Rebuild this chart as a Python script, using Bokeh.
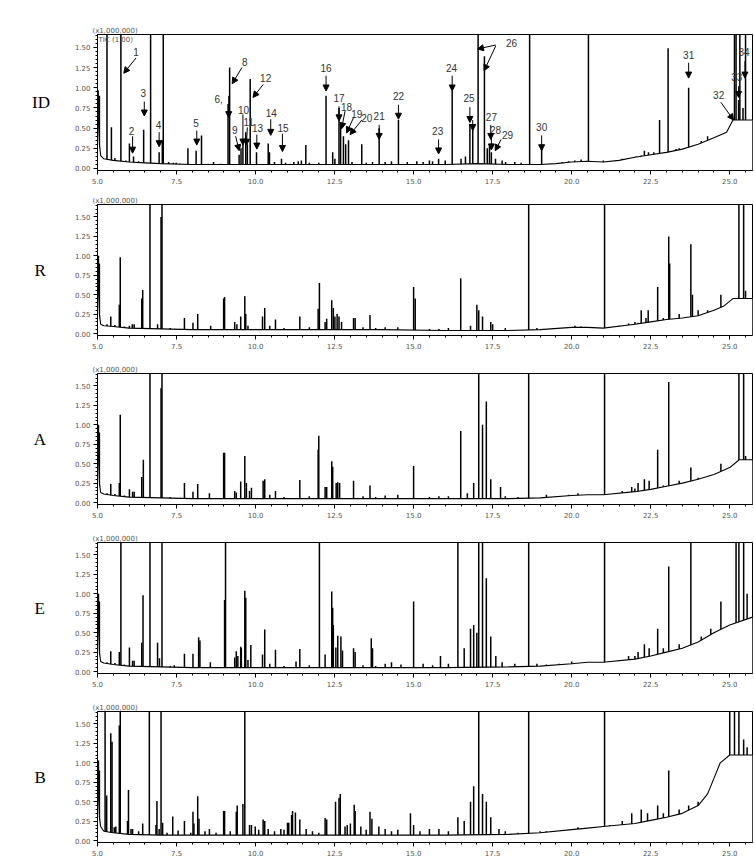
import numpy as np
from bokeh.plotting import figure
from bokeh.layouts import column
from bokeh.models import (Range1d, FixedTicker, NumeralTickFormatter, Arrow,
                          NormalHead, Label, ColumnDataSource)
from bokeh.embed import file_html
from bokeh.resources import INLINE
from bokeh.core.properties import value

# ---------------- axes ----------------
X_RANGE = (5.0, 25.72)
Y_RANGE = (-0.025, 1.66)
X_TICKS = [5.0, 7.5, 10.0, 12.5, 15.0, 17.5, 20.0, 22.5, 25.0]
X_MINOR = [5.5, 6.0, 6.5, 7.0, 8.0, 8.5, 9.0, 9.5, 10.5, 11.0, 11.5, 12.0, 13.0, 13.5,
           14.0, 14.5, 15.5, 16.0, 16.5, 17.0, 18.0, 18.5, 19.0, 19.5, 20.5, 21.0,
           21.5, 22.0, 23.0, 23.5, 24.0, 24.5, 25.5]
Y_TICKS = [0.0, 0.25, 0.5, 0.75, 1.0, 1.25, 1.5]
Y_MINOR = [0.05, 0.1, 0.15, 0.2, 0.3, 0.35, 0.4, 0.45, 0.55, 0.6, 0.65, 0.7, 0.8, 0.85,
           0.9, 0.95, 1.05, 1.1, 1.15, 1.2, 1.3, 1.35, 1.4, 1.45, 1.55, 1.6, 1.65]

# ---------------- ID ----------------
ID_T = [5.02, 5.06, 5.30, 5.44, 5.74, 6.01, 6.14, 6.46, 6.68, 6.95, 7.05, 7.08, 7.49,
        7.86, 8.12, 8.29, 8.67, 9.13, 9.18, 9.48, 9.54, 9.60, 9.69, 9.74, 9.83, 10.03,
        10.40, 10.44, 10.82, 11.21, 11.45, 11.59, 12.23, 12.44, 12.51, 12.64, 12.69,
        12.78, 12.85, 12.94, 13.36, 13.91, 14.52, 15.79, 16.22, 16.64, 16.78, 16.87,
        17.04, 17.24, 17.33, 17.40, 17.46, 17.59, 17.91, 18.67, 19.05, 20.53, 21.40,
        22.04, 22.30, 22.43, 22.78, 23.05, 23.52, 23.70, 23.85, 25.15, 25.20, 25.28,
        25.32, 25.42, 25.50, 25.60]
ID_H = [0.97, 0.90, 1.70, 0.51, 1.70, 0.31, 0.15, 0.48, 1.70, 0.20, 0.35, 1.70, 0.07,
        0.25, 0.22, 0.41, 0.08, 0.80, 1.25, 0.17, 0.25, 0.35, 0.45, 0.30, 1.11, 0.20,
        0.31, 0.20, 0.12, 0.08, 0.10, 0.29, 0.90, 0.20, 0.12, 0.75, 0.55, 0.40, 0.30,
        0.35, 0.30, 0.50, 0.60, 0.12, 0.96, 0.15, 0.55, 0.48, 1.70, 1.39, 0.25, 0.30,
        0.20, 0.12, 0.08, 1.70, 0.25, 1.70, 0.10, 0.15, 0.22, 0.20, 0.60, 1.49, 0.15,
        1.00, 0.25, 1.70, 1.70, 0.85, 1.70, 0.75, 1.70, 0.60]
# small background spikes of ID
ID_NT = [5.55, 5.9, 6.3, 7.25, 7.4, 7.6, 8.5, 8.9, 10.6, 10.95, 11.1, 11.35, 11.7, 12.0,
         13.05, 13.5, 13.7, 14.1, 14.3, 14.8, 15.1, 15.3, 15.5, 15.6, 16.0, 16.5, 17.8,
         18.2, 18.4, 19.7, 19.9, 20.1, 20.3, 21.0, 21.6, 21.8, 22.2, 22.6, 23.3, 23.4,
         24.1, 24.3]
ID_NH = [0.13, 0.10, 0.09, 0.08, 0.07, 0.06, 0.06, 0.06, 0.08, 0.07, 0.06, 0.09, 0.07,
         0.07, 0.08, 0.07, 0.08, 0.08, 0.09, 0.08, 0.09, 0.08, 0.10, 0.09, 0.10, 0.12,
         0.10, 0.08, 0.07, 0.08, 0.09, 0.10, 0.11, 0.10, 0.12, 0.13, 0.16, 0.20, 0.24,
         0.25, 0.34, 0.40]
ID_BX = [5.0, 5.03, 5.06, 5.1, 5.2, 5.5, 6.0, 6.5, 7.0, 8.0, 9.0, 10.0, 11.0, 12.0,
         13.0, 14.0, 15.0, 16.0, 17.0, 18.0, 19.0, 19.5, 20.0, 20.5, 21.0, 21.5, 22.0,
         22.5, 23.0, 23.5, 24.0, 24.5, 24.9, 25.1, 25.4, 25.72]
ID_BY = [0.95, 0.60, 0.30, 0.16, 0.12, 0.10, 0.08, 0.07, 0.06, 0.05, 0.05, 0.05, 0.05,
         0.05, 0.05, 0.05, 0.05, 0.05, 0.06, 0.05, 0.05, 0.06, 0.08, 0.09, 0.08, 0.10,
         0.14, 0.17, 0.20, 0.24, 0.30, 0.38, 0.45, 0.60, 0.60, 0.60]

# peak annotations of ID
LBL_TEXT = ["1", "2", "3", "4", "5", "6,", "8", "9", "10", "11", "12", "13", "14", "15",
            "16", "17", "18", "19", "20", "21", "22", "23", "24", "25", "26", "27", "28",
            "29", "30", "31", "32", "33", "34"]
LBL_X = [6.22, 6.08, 6.45, 6.93, 8.12, 8.83, 9.66, 9.34, 9.62, 9.78, 10.32, 10.06, 10.50,
         10.87, 12.23, 12.64, 12.88, 13.20, 13.52, 13.91, 14.52, 15.76, 16.20, 16.75,
         18.10, 17.46, 17.59, 17.97, 19.05, 23.70, 24.65, 25.22, 25.45]
LBL_Y = [1.44, 0.47, 0.93, 0.54, 0.56, 0.86, 1.32, 0.48, 0.73, 0.58, 1.12, 0.50, 0.69,
         0.50, 1.25, 0.87, 0.76, 0.67, 0.63, 0.65, 0.90, 0.47, 1.24, 0.87, 1.56, 0.64,
         0.48, 0.42, 0.51, 1.41, 0.91, 1.13, 1.44]
ARR_X0 = [6.22, 6.11, 6.48, 6.95, 8.14, 9.15, 9.57, 9.37, 9.60, 9.74, 10.24, 10.04,
          10.48, 10.85, 12.23, 12.64, 12.83, 13.10, 13.36, 13.91, 14.52, 15.79, 16.22,
          16.78, 16.87, 17.60, 17.60, 17.44, 17.46, 17.77, 19.05, 23.70, 24.72, 25.28, 25.48]
ARR_Y0 = [1.37, 0.40, 0.83, 0.45, 0.47, 0.90, 1.25, 0.40, 0.67, 0.51, 1.04, 0.42, 0.61,
          0.43, 1.15, 0.77, 0.71, 0.63, 0.60, 0.54, 0.79, 0.36, 1.15, 0.76, 0.60, 1.53,
          1.52, 0.54, 0.42, 0.36, 0.41, 1.31, 0.82, 1.02, 1.33]
ARR_X1 = [5.83, 6.11, 6.48, 6.95, 8.14, 9.15, 9.26, 9.48, 9.60, 9.71, 9.92, 10.04, 10.48,
          10.85, 12.23, 12.64, 12.72, 12.88, 12.99, 13.91, 14.52, 15.79, 16.22, 16.78,
          16.87, 17.02, 17.23, 17.44, 17.46, 17.58, 19.05, 23.70, 25.12, 25.28, 25.48]
ARR_Y1 = [1.18, 0.19, 0.65, 0.27, 0.29, 0.63, 1.05, 0.22, 0.29, 0.29, 0.88, 0.24, 0.41,
          0.21, 0.96, 0.59, 0.49, 0.44, 0.42, 0.36, 0.61, 0.18, 0.96, 0.57, 0.47, 1.48,
          1.21, 0.36, 0.23, 0.22, 0.22, 1.12, 0.60, 0.88, 1.12]

# ---------------- R ----------------
R_T = [5.03, 5.06, 5.42, 5.69, 5.72, 6.01, 6.10, 6.16, 6.40, 6.43, 6.66, 6.90, 7.01, 7.04,
       7.75, 8.02, 8.17, 8.58, 8.99, 9.02, 9.34, 9.41, 9.53, 9.66, 9.69, 9.76, 10.22,
       10.29, 10.63, 11.40, 11.98, 12.02, 12.20, 12.25, 12.41, 12.46, 12.51, 12.58,
       12.64, 12.72, 13.10, 13.15, 13.62, 15.00, 15.05, 16.49, 17.00, 17.06, 17.18,
       17.44, 17.50, 18.64, 18.90, 19.90, 20.10, 20.30, 21.04, 21.80, 22.10, 22.20,
       22.35, 22.42, 22.72, 23.07, 23.10, 23.77, 23.82, 23.90, 24.72, 25.29, 25.44, 25.50]
R_H = [1.00, 0.90, 0.22, 0.37, 0.98, 0.10, 0.12, 0.12, 0.45, 0.56, 1.70, 0.12, 1.50, 1.70,
       0.20, 0.14, 0.25, 0.10, 0.45, 0.47, 0.15, 0.12, 0.22, 0.48, 0.25, 0.10, 0.22,
       0.33, 0.18, 0.22, 0.32, 0.65, 0.15, 0.19, 0.43, 0.33, 0.22, 0.25, 0.22, 0.15,
       0.20, 0.20, 0.24, 0.60, 0.45, 0.71, 0.37, 0.30, 0.22, 0.15, 0.12, 1.70, 0.07,
       0.08, 0.10, 0.09, 1.70, 0.13, 0.14, 0.30, 0.20, 0.30, 0.60, 1.25, 0.90, 1.15,
       0.50, 0.22, 0.50, 1.70, 1.70, 0.55]
R_NT = [5.3, 5.55, 5.85, 7.3, 7.45, 7.9, 8.8, 10.45, 10.9, 11.2, 11.7, 13.4, 13.8, 14.1,
        14.5, 15.5, 15.8, 16.1, 16.8, 17.9, 19.5, 21.5, 22.0, 22.9, 23.4, 24.0, 24.3]
R_NH = [0.12, 0.11, 0.09, 0.07, 0.06, 0.06, 0.06, 0.10, 0.07, 0.06, 0.08, 0.08, 0.07,
        0.08, 0.08, 0.06, 0.06, 0.07, 0.10, 0.07, 0.06, 0.10, 0.15, 0.20, 0.25, 0.30, 0.30]
R_BX = [5.0, 5.03, 5.06, 5.1, 5.2, 5.5, 6.0, 7.0, 8.0, 10.0, 12.0, 14.0, 16.0, 18.0,
        19.0, 20.0, 20.5, 21.0, 22.0, 22.5, 23.0, 23.5, 24.0, 24.5, 24.8, 25.1, 25.72]
R_BY = [1.00, 0.60, 0.25, 0.12, 0.10, 0.09, 0.07, 0.06, 0.05, 0.05, 0.05, 0.05, 0.04,
        0.04, 0.05, 0.08, 0.08, 0.07, 0.12, 0.15, 0.18, 0.20, 0.23, 0.30, 0.35, 0.45, 0.45]

# ---------------- A ----------------
A_T = [5.03, 5.06, 5.42, 5.69, 5.72, 6.01, 6.11, 6.16, 6.40, 6.45, 6.66, 7.01, 7.04, 7.75,
       8.02, 8.17, 8.54, 8.99, 9.02, 9.34, 9.39, 9.53, 9.66, 9.71, 9.81, 9.87, 10.24,
       10.29, 10.63, 11.40, 11.98, 12.00, 12.20, 12.25, 12.41, 12.44, 12.55, 12.60,
       12.66, 13.10, 13.62, 15.00, 16.49, 16.90, 17.06, 17.18, 17.30, 17.44, 17.75,
       18.64, 19.20, 20.20, 21.04, 21.60, 21.90, 22.10, 22.30, 22.45, 22.72, 23.07,
       23.77, 24.30, 24.72, 25.29, 25.44, 25.50]
A_H = [1.00, 0.90, 0.24, 0.25, 1.13, 0.17, 0.14, 0.14, 0.33, 0.55, 1.70, 1.47, 1.70, 0.25,
       0.14, 0.24, 0.12, 0.64, 0.64, 0.15, 0.13, 0.27, 0.60, 0.25, 0.15, 0.19, 0.28,
       0.30, 0.15, 0.29, 0.68, 0.86, 0.20, 0.20, 0.53, 0.46, 0.25, 0.26, 0.25, 0.28,
       0.22, 0.47, 0.92, 0.25, 1.70, 1.00, 1.30, 0.30, 0.20, 1.70, 0.10, 0.12, 1.70,
       0.15, 0.20, 0.25, 0.30, 0.28, 0.68, 1.55, 0.45, 0.30, 0.50, 1.70, 1.70, 0.60]
A_NT = [5.3, 5.55, 5.85, 7.3, 7.45, 7.9, 8.8, 10.45, 10.9, 11.2, 11.7, 13.4, 13.8, 14.1,
        14.5, 15.5, 15.8, 16.1, 16.7, 17.9, 18.3, 19.5, 19.9, 21.5, 22.0, 22.9, 23.4,
        24.0]
A_NH = [0.12, 0.11, 0.09, 0.07, 0.06, 0.06, 0.06, 0.10, 0.07, 0.06, 0.08, 0.08, 0.07,
        0.09, 0.10, 0.07, 0.08, 0.08, 0.12, 0.08, 0.07, 0.07, 0.10, 0.12, 0.18, 0.22,
        0.28, 0.32]
A_BX = [5.0, 5.03, 5.06, 5.1, 5.2, 5.5, 6.0, 7.0, 8.0, 10.0, 12.0, 14.0, 16.0, 18.0,
        19.0, 20.0, 20.5, 21.0, 22.0, 22.5, 23.0, 23.5, 24.0, 24.5, 25.0, 25.3, 25.72]
A_BY = [1.00, 0.60, 0.25, 0.13, 0.11, 0.09, 0.07, 0.06, 0.05, 0.05, 0.05, 0.05, 0.05,
        0.05, 0.06, 0.09, 0.10, 0.10, 0.14, 0.17, 0.21, 0.25, 0.30, 0.36, 0.45, 0.55, 0.55]

# ---------------- E ----------------
E_T = [5.03, 5.06, 5.42, 5.69, 5.74, 6.01, 6.11, 6.16, 6.40, 6.44, 6.66, 6.90, 6.96, 7.04,
       7.43, 7.75, 8.02, 8.20, 8.24, 8.57, 9.02, 9.05, 9.34, 9.39, 9.44, 9.53, 9.55, 9.66,
       9.69, 9.76, 9.85, 10.22, 10.29, 10.63, 11.28, 11.40, 12.02, 12.20, 12.41, 12.44,
       12.46, 12.54, 12.60, 12.70, 12.75, 13.10, 13.15, 13.66, 13.70, 15.00, 15.85,
       16.40, 16.80, 16.90, 17.00, 17.06, 17.18, 17.30, 17.44, 17.60, 18.64, 18.90,
       21.04, 21.80, 22.10, 22.30, 22.45, 22.72, 23.07, 23.77, 24.72, 25.20, 25.29,
       25.44, 25.55]
E_H = [1.00, 0.90, 0.26, 0.25, 1.70, 0.31, 0.14, 0.14, 0.37, 0.98, 1.70, 0.37, 0.17, 1.70,
       0.08, 0.23, 0.23, 0.44, 0.40, 0.12, 0.92, 1.70, 0.18, 0.26, 0.20, 0.32, 0.30, 1.04,
       0.95, 0.15, 0.34, 0.22, 0.54, 0.28, 0.13, 0.29, 1.70, 0.22, 1.03, 0.82, 0.60, 0.31,
       0.46, 0.45, 0.27, 0.30, 0.25, 0.43, 0.30, 0.90, 0.20, 1.70, 0.55, 0.60, 0.50, 1.70,
       1.70, 1.20, 0.45, 0.20, 1.70, 0.10, 1.70, 0.20, 0.25, 0.35, 0.30, 0.55, 1.35, 1.70,
       0.90, 1.70, 1.70, 1.70, 1.00]
E_NT = [5.3, 5.55, 5.85, 7.3, 7.6, 7.9, 8.8, 10.45, 10.9, 11.1, 11.7, 13.4, 13.8, 14.1,
        14.3, 14.6, 15.3, 15.6, 16.1, 16.6, 17.8, 18.2, 19.2, 19.6, 20.0, 21.5, 22.0,
        22.9, 23.4, 24.1, 24.4]
E_NH = [0.12, 0.11, 0.09, 0.07, 0.06, 0.06, 0.06, 0.10, 0.07, 0.06, 0.08, 0.08, 0.07,
        0.10, 0.12, 0.09, 0.10, 0.08, 0.10, 0.30, 0.12, 0.10, 0.09, 0.10, 0.13, 0.15,
        0.20, 0.30, 0.35, 0.45, 0.55]
E_BX = [5.0, 5.03, 5.06, 5.1, 5.2, 5.5, 6.0, 7.0, 8.0, 10.0, 12.0, 14.0, 16.0, 18.0,
        19.0, 20.0, 20.5, 21.0, 22.0, 22.5, 23.0, 23.5, 24.0, 24.5, 25.0, 25.72]
E_BY = [1.00, 0.60, 0.25, 0.13, 0.11, 0.09, 0.07, 0.06, 0.05, 0.05, 0.05, 0.05, 0.05,
        0.06, 0.07, 0.10, 0.12, 0.12, 0.16, 0.20, 0.25, 0.30, 0.38, 0.50, 0.60, 0.70]

# ---------------- B ----------------
B_T = [5.03, 5.06, 5.24, 5.29, 5.42, 5.46, 5.53, 5.58, 5.69, 5.72, 5.95, 5.98, 6.06,
       6.11, 6.43, 6.64, 6.85, 6.88, 7.01, 7.06, 7.38, 7.75, 8.02, 8.05, 8.17, 8.21,
       8.54, 8.99, 9.02, 9.39, 9.42, 9.60, 9.66, 9.81, 9.87, 9.99, 10.24, 10.29, 10.40,
       10.80, 11.01, 11.05, 11.14, 11.17, 11.26, 11.40, 12.20, 12.25, 12.53, 12.64,
       12.68, 12.83, 13.12, 13.15, 13.33, 13.62, 13.68, 14.90, 15.00, 15.50, 16.40,
       16.80, 16.90, 17.06, 17.18, 17.30, 17.44, 18.64, 19.20, 21.04, 21.60, 21.90,
       22.20, 22.40, 22.72, 23.07, 24.00, 25.00, 25.15, 25.29, 25.44, 25.55]
B_H = [1.03, 0.90, 1.70, 0.58, 1.38, 1.27, 0.17, 0.18, 1.48, 1.70, 0.25, 0.65, 0.15, 0.15,
       0.22, 1.70, 0.20, 0.51, 1.70, 0.23, 0.31, 0.25, 0.37, 0.22, 0.57, 0.28, 0.15, 0.38,
       0.38, 0.37, 0.45, 0.47, 1.70, 0.20, 0.20, 0.18, 0.27, 0.25, 0.15, 0.15, 0.23, 0.23,
       0.33, 0.38, 0.36, 0.27, 0.29, 0.27, 0.50, 0.55, 0.60, 0.18, 0.46, 0.38, 0.18, 0.37,
       0.28, 0.35, 0.20, 0.15, 0.30, 0.50, 0.70, 1.70, 0.60, 0.50, 0.30, 1.70, 0.12, 1.70,
       0.25, 0.35, 0.40, 0.35, 0.45, 0.90, 0.50, 1.70, 1.70, 1.70, 1.30, 1.20]
B_NT = [6.3, 6.95, 7.2, 7.55, 7.95, 8.4, 8.75, 9.2, 10.1, 10.6, 10.9, 11.6, 11.8, 12.0,
        12.9, 13.0, 13.5, 13.9, 14.1, 14.3, 14.5, 15.2, 15.8, 16.1, 16.6, 17.7, 17.9,
        18.3, 19.0, 20.2, 21.2, 22.9, 23.4, 23.7]
B_NH = [0.12, 0.15, 0.10, 0.13, 0.10, 0.12, 0.10, 0.12, 0.14, 0.12, 0.14, 0.15, 0.12,
        0.10, 0.20, 0.22, 0.14, 0.18, 0.15, 0.12, 0.14, 0.12, 0.15, 0.12, 0.25, 0.15,
        0.12, 0.10, 0.12, 0.17, 0.20, 0.35, 0.40, 0.45]
B_BX = [5.0, 5.03, 5.06, 5.1, 5.2, 5.5, 6.0, 7.0, 8.0, 10.0, 12.0, 14.0, 16.0, 18.0,
        19.0, 20.0, 20.5, 21.0, 22.0, 22.5, 23.0, 23.5, 24.0, 24.3, 24.5, 24.7, 25.0, 25.72]
B_BY = [1.03, 0.60, 0.30, 0.18, 0.12, 0.10, 0.08, 0.07, 0.07, 0.07, 0.07, 0.07, 0.07,
        0.08, 0.10, 0.14, 0.16, 0.18, 0.22, 0.26, 0.30, 0.35, 0.45, 0.60, 0.80, 1.00,
        1.10, 1.10]

PANELS = [
    ("ID", ID_T + ID_NT, ID_H + ID_NH, ID_BX, ID_BY),
    ("R", R_T + R_NT, R_H + R_NH, R_BX, R_BY),
    ("A", A_T + A_NT, A_H + A_NH, A_BX, A_BY),
    ("E", E_T + E_NT, E_H + E_NH, E_BX, E_BY),
    ("B", B_T + B_NT, B_H + B_NH, B_BX, B_BY),
]
# figure geometry: (height, top border, bottom border)
GEOM = [(189, 34, 19), (169, 15, 23), (169, 15, 23), (169, 15, 23), (170, 15, 24)]
LETTER_STANDOFF = {"ID": 22, "R": 26, "A": 26, "E": 27, "B": 26}

TICK_FONT = "DejaVu Sans"
TICK_COLOR = "#555555"


def make_panel(name, pt, ph, bx, by, geom, first):
    height, top, bottom = geom
    p = figure(width=754, height=height, x_range=Range1d(*X_RANGE),
               y_range=Range1d(*Y_RANGE), output_backend="svg", toolbar_location=None,
               min_border_left=97, min_border_right=2, min_border_top=top,
               min_border_bottom=bottom)
    p.grid.visible = False
    p.outline_line_color = "black"
    p.outline_line_width = 1
    p.background_fill_color = "white"

    p.title.text = "(x1,000,000)"
    p.title.align = "left"
    p.title.offset = -5
    p.title.standoff = 0
    p.title.text_font = TICK_FONT
    p.title.text_font_size = "7px"
    p.title.text_font_style = "normal"
    p.title.text_color = TICK_COLOR

    # peaks drawn from the floor, then the area below the baseline blanked
    p.segment(x0=pt, y0=[Y_RANGE[0]] * len(pt), x1=pt, y1=ph,
              line_color="black", line_width=1.5)
    p.varea(x=bx, y1=[Y_RANGE[0] - 0.05] * len(bx), y2=by, fill_color="white")
    p.line(bx, by, line_color="black", line_width=1.1)

    for ax in (p.xaxis[0], p.yaxis[0]):
        ax.axis_line_color = "black"
        ax.major_tick_line_color = "black"
        ax.minor_tick_line_color = "black"
        ax.major_tick_out = 4
        ax.major_tick_in = 0
        ax.minor_tick_out = 2
        ax.minor_tick_in = 0
        ax.major_label_text_font = TICK_FONT
        ax.major_label_text_font_size = "7px"
        ax.major_label_text_color = TICK_COLOR
        ax.major_label_standoff = 3
    p.xaxis[0].ticker = FixedTicker(ticks=X_TICKS, minor_ticks=X_MINOR)
    p.yaxis[0].ticker = FixedTicker(ticks=Y_TICKS, minor_ticks=Y_MINOR)
    p.xaxis[0].formatter = NumeralTickFormatter(format="0.0")
    p.yaxis[0].formatter = NumeralTickFormatter(format="0.00")

    ya = p.yaxis[0]
    ya.axis_label = name
    ya.axis_label_orientation = "horizontal"
    ya.axis_label_text_font = "Liberation Serif"
    ya.axis_label_text_font_size = "17px"
    ya.axis_label_text_font_style = "normal"
    ya.axis_label_text_color = "black"
    ya.axis_label_standoff = LETTER_STANDOFF[name]

    if first:
        p.add_layout(Label(x=X_RANGE[0], y=Y_RANGE[1], x_offset=1, y_offset=-5,
                           text="TIC (1.00)", text_font=TICK_FONT, text_font_size="7px",
                           text_color=TICK_COLOR, text_align="left", text_baseline="middle"))
        src = ColumnDataSource(dict(x0=ARR_X0, y0=ARR_Y0, x1=ARR_X1, y1=ARR_Y1))
        p.add_layout(Arrow(end=NormalHead(size=6, fill_color="black", line_color="black"),
                           x_start="x0", y_start="y0", x_end="x1", y_end="y1",
                           source=src, line_color="black", line_width=1))
        p.text(x=LBL_X, y=LBL_Y, text=LBL_TEXT, text_font=value("Liberation Sans"),
               text_font_size=value("10px"), text_color="#333333",
               text_align="center", text_baseline="middle")
    return p


figs = [make_panel(n, t, h, bx, by, GEOM[i], i == 0)
        for i, (n, t, h, bx, by) in enumerate(PANELS)]
layout = column(*figs, spacing=0)

open("out.html", "w").write(file_html(layout, INLINE))
